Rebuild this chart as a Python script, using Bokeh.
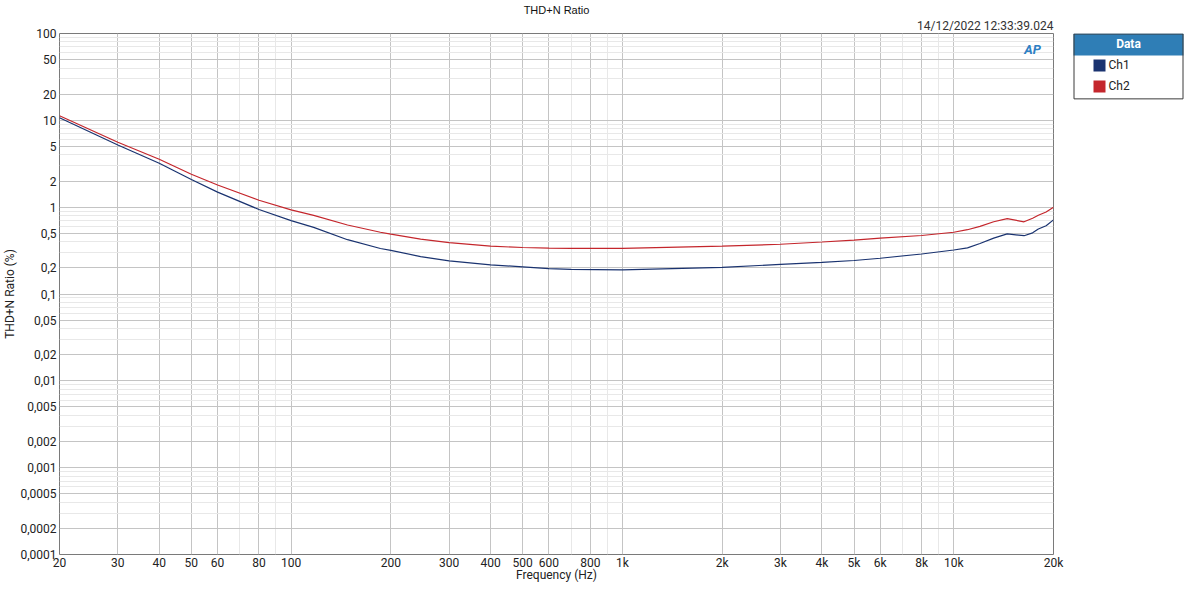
from bokeh.plotting import figure
from bokeh.models import FixedTicker, Title, Label, Range1d
from bokeh.layouts import row
from bokeh.embed import file_html
from bokeh.resources import INLINE
from bokeh.core.properties import value

# ---- data ----
freq_hz = [20, 30, 40, 50, 60, 80, 100, 117, 148, 186, 200, 246, 300, 400, 500, 600,
           700, 830, 1000, 2000, 3000, 4000, 5000, 6000, 8000, 10000, 11000, 12000,
           13200, 14500, 16300, 17300, 18000, 19000, 20000]
ch1_pct = [10.7, 5.2, 3.2, 2.08, 1.49, 0.94, 0.70, 0.586, 0.422, 0.334, 0.318, 0.27,
           0.241, 0.217, 0.205, 0.196, 0.192, 0.191, 0.190, 0.203, 0.219, 0.231,
           0.243, 0.258, 0.289, 0.321, 0.34, 0.381, 0.44, 0.493, 0.469, 0.506,
           0.561, 0.612, 0.714]
ch2_pct = [11.3, 5.6, 3.56, 2.39, 1.80, 1.20, 0.93, 0.806, 0.623, 0.514, 0.489, 0.429,
           0.391, 0.355, 0.343, 0.337, 0.335, 0.335, 0.335, 0.355, 0.374, 0.397,
           0.418, 0.440, 0.472, 0.514, 0.55, 0.600, 0.68, 0.739, 0.678, 0.746,
           0.807, 0.879, 1.0]

series_names = ["Ch1", "Ch2"]
series_colors = ["#1A3370", "#C4262C"]

x_ticks = [20, 30, 40, 50, 60, 80, 100, 200, 300, 400, 500, 600, 800, 1000, 2000,
           3000, 4000, 5000, 6000, 8000, 10000, 20000]
x_tick_labels = ["20", "30", "40", "50", "60", "80", "100", "200", "300", "400", "500",
                 "600", "800", "1k", "2k", "3k", "4k", "5k", "6k", "8k", "10k", "20k"]
x_minor = [70, 90, 700, 900, 7000, 9000]

y_ticks = [0.0001, 0.0002, 0.0005, 0.001, 0.002, 0.005, 0.01, 0.02, 0.05, 0.1, 0.2,
           0.5, 1, 2, 5, 10, 20, 50, 100]
y_tick_labels = ["0,0001", "0,0002", "0,0005", "0,001", "0,002", "0,005", "0,01",
                 "0,02", "0,05", "0,1", "0,2", "0,5", "1", "2", "5", "10", "20", "50",
                 "100"]
y_minor = [m * d for d in [0.0001, 0.001, 0.01, 0.1, 1, 10] for m in [3, 4, 6, 7, 8, 9]]

title_text = "THD+N Ratio"
stamp_text = "14/12/2022 12:33:39.024"
x_label = "Frequency (Hz)"
y_label = "THD+N Ratio (%)"
legend_title = "Data"

FONT = "Roboto"

p = figure(width=1066, height=584, x_axis_type="log", y_axis_type="log",
           x_range=Range1d(20, 20000), y_range=Range1d(0.0001, 100),
           output_backend="svg", toolbar_location=None,
           min_border_left=59, min_border_right=13, min_border_top=33,
           min_border_bottom=0, background_fill_color="white",
           border_fill_color="white")

p.title.text = title_text
p.title.align = "center"
p.title.text_font = "Liberation Sans"
p.title.text_font_size = "11px"
p.title.text_font_style = "normal"
p.title.text_color = "#111111"
p.title.standoff = 0
p.title.offset = -6

stamp = Title(text=stamp_text, align="right", text_font=FONT, text_font_size="12px",
              text_font_style="normal", text_color="#333333", standoff=2)
p.add_layout(stamp, "above")

xt = FixedTicker(ticks=x_ticks, minor_ticks=x_minor)
yt = FixedTicker(ticks=y_ticks, minor_ticks=y_minor)
p.xaxis.ticker = xt
p.yaxis.ticker = yt
p.xgrid.ticker = xt
p.ygrid.ticker = yt
p.xaxis.major_label_overrides = {t: l for t, l in zip(x_ticks, x_tick_labels)}
p.yaxis.major_label_overrides = {t: l for t, l in zip(y_ticks, y_tick_labels)}

for ax in (p.xaxis[0], p.yaxis[0]):
    ax.axis_line_color = None
    ax.major_tick_out = 0
    ax.major_tick_in = 0
    ax.minor_tick_out = 0
    ax.minor_tick_in = 0
    ax.major_label_text_font = FONT
    ax.major_label_text_font_size = "12px"
    ax.major_label_text_color = "#222222"
    ax.axis_label_text_font = FONT
    ax.axis_label_text_font_size = "12px"
    ax.axis_label_text_font_style = "normal"
    ax.axis_label_text_color = "#222222"
    ax.axis_label_standoff = 0
    ax.major_label_standoff = 3

p.xaxis.major_label_standoff = 1
p.xaxis.axis_label_standoff = -5

p.xaxis.axis_label = x_label
p.yaxis.axis_label = y_label

for g in (p.xgrid[0], p.ygrid[0]):
    g.grid_line_color = "#C4C4C4"
    g.grid_line_width = 1
    g.minor_grid_line_color = "#E8E8E8"
    g.minor_grid_line_width = 1

p.outline_line_color = "#7A7A7A"
p.outline_line_width = 1

for vals, name, col in zip([ch1_pct, ch2_pct], series_names, series_colors):
    p.line(freq_hz, vals, line_color=col, line_width=1.2)

logo = Label(x=17300, y=66, text="AP", text_align="center", text_baseline="middle",
             text_font=FONT, text_font_style="bold italic", text_font_size="13px",
             text_color="#2E80C4")
p.add_layout(logo)

# ---- legend panel (its frame is aligned with the main frame; y in px from frame top) ----
FRAME_H = 522
leg = figure(width=118, height=584, x_range=Range1d(0, 118),
             y_range=Range1d(FRAME_H, 0),
             min_border=0, toolbar_location=None, output_backend="svg",
             background_fill_color="white", border_fill_color="white")
leg.axis.visible = False
leg.grid.visible = False
leg.outline_line_color = None

leg.quad(left=[7], right=[117], top=[0], bottom=[22], fill_color="#2F7EB6",
         line_color=None)
leg.quad(left=[7.5], right=[116.5], top=[0.5], bottom=[65.5], fill_color=None,
         line_color="#3A3A3A", line_width=1)
leg.text(x=[62], y=[11], text=[legend_title], text_align="center",
         text_baseline="middle", text_color="white", text_font=value(FONT),
         text_font_style="bold", text_font_size="12px")
sw_y = [32, 53]
leg.rect(x=[33, 33], y=sw_y, width=12, height=12, fill_color=series_colors,
         line_color=None)
leg.text(x=[42, 42], y=sw_y, text=series_names, text_align="left",
         text_baseline="middle", text_color="#222222", text_font=value(FONT),
         text_font_size="12px")

layout = row(p, leg)
open("out.html", "w").write(file_html(layout, INLINE))
